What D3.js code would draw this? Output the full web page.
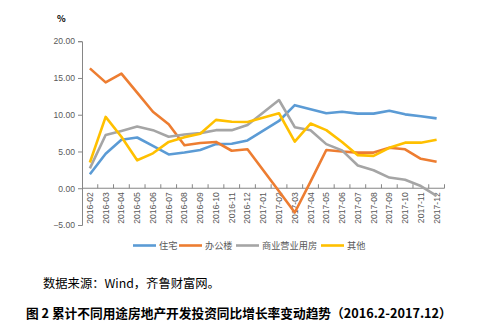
<!DOCTYPE html>
<html><head><meta charset="utf-8">
<script src="https://cdn.jsdelivr.net/npm/d3@7"></script>
<style>body{margin:0;background:#fff}svg{display:block}</style>
</head><body>
<script>
const categories = ["2016-02","2016-03","2016-04","2016-05","2016-06","2016-07","2016-08","2016-09","2016-10","2016-11","2016-12","2017-01","2017-02","2017-03","2017-04","2017-05","2017-06","2017-07","2017-08","2017-09","2017-10","2017-11","2017-12"];
const seriesNames = ["住宅","办公楼","商业营业用房","其他"];
const residential = [1.9,4.7,6.6,6.9,5.75,4.6,4.85,5.2,6.0,6.05,6.5,null,9.15,11.3,10.75,10.2,10.4,10.15,10.15,10.55,10.05,9.8,9.5];
const office      = [16.3,14.4,15.6,13.0,10.4,8.7,5.85,6.15,6.3,5.1,5.3,null,-0.4,-3.3,0.9,5.2,5.0,4.85,4.85,5.5,5.3,4.0,3.6];
const commercial  = [2.7,7.25,7.8,8.4,7.9,7.0,7.3,7.5,7.9,7.9,8.6,null,12.0,8.3,7.9,6.0,5.15,3.1,2.45,1.45,1.15,0.3,-1.05];
const other       = [3.5,9.7,7.0,3.8,4.75,6.3,6.95,7.4,9.3,9.05,9.0,null,10.2,6.35,8.8,7.9,6.3,4.5,4.4,5.5,6.2,6.2,6.6];
const yTicks = [-5,0,5,10,15,20];
const colors = ["#5B9BD5","#ED7D31","#A5A5A5","#FFC000"];
const sourceText = "数据来源：Wind，齐鲁财富网。";
const titleText = "图 2 累计不同用途房地产开发投资同比增长率变动趋势（2016.2-2017.12）";

const W=488,H=332;
const svg=d3.select("body").append("svg").attr("width",W).attr("height",H);
const x=d3.scaleBand().domain(categories).range([82,444.5]);
const y=d3.scaleLinear().domain([-5,20]).range([225,41.2]);
const axisColor="#868686", textColor="#595959";
const numFont="'Liberation Sans',Arial,sans-serif";
const cjkFont="'Noto Sans CJK SC',sans-serif";

// y axis
const ya=svg.append("g").attr("transform","translate(82,0)")
  .call(d3.axisLeft(y).tickValues(yTicks).tickFormat(d3.format(".2f")).tickSize(4).tickPadding(3));
ya.select(".domain").attr("stroke",axisColor);
ya.selectAll(".tick line").attr("stroke",axisColor);
ya.selectAll(".tick text").attr("fill",textColor).style("font-family",numFont).style("font-size","8.6px");

// x axis at zero
const xg=svg.append("g").attr("transform",`translate(0,${y(0)})`);
xg.append("line").attr("x1",82).attr("x2",444.5).attr("stroke",axisColor);
const bounds=categories.map(c=>x(c)).concat([x.range()[1]]);
xg.selectAll("line.tk").data(bounds.slice(1)).join("line").attr("class","tk")
  .attr("x1",d=>d).attr("x2",d=>d).attr("y1",0).attr("y2",-4).attr("stroke",axisColor);
xg.selectAll("text").data(categories).join("text")
  .attr("transform",d=>`translate(${x(d)+x.bandwidth()/2+3},4) rotate(-90)`)
  .attr("text-anchor","end").attr("fill",textColor)
  .style("font-family",numFont).style("font-size","8.6px").text(d=>d);

// % label
svg.append("text").attr("x",57).attr("y",22).text("%").attr("fill","#000")
  .style("font-family",cjkFont).style("font-size","9px").style("font-weight","bold");

// lines
const allSeries=[residential,office,commercial,other];
const line=d3.line().x(d=>x(d.c)+x.bandwidth()/2).y(d=>y(d.v));
allSeries.forEach((s,i)=>{
  const pts=s.map((v,j)=>({c:categories[j],v})).filter(d=>d.v!==null);
  svg.append("path").datum(pts).attr("d",line).attr("fill","none")
    .attr("stroke",colors[i]).attr("stroke-width",2.6).attr("stroke-linejoin","round");
});

// legend
const legX=[133,179,236,321];
const lg=svg.append("g");
seriesNames.forEach((n,i)=>{
  lg.append("line").attr("x1",legX[i]).attr("x2",legX[i]+23).attr("y1",245.5).attr("y2",245.5)
    .attr("stroke",colors[i]).attr("stroke-width",2.6);
  lg.append("text").attr("x",legX[i]+26).attr("y",249).text(n).attr("fill",textColor)
    .style("font-family",cjkFont).style("font-size","9.2px");
});

svg.append("text").attr("x",43).attr("y",288).text(sourceText).attr("fill","#000")
  .style("font-family",cjkFont).style("font-size","12.3px");
svg.append("text").attr("x",26).attr("y",318).text(titleText).attr("fill","#000")
  .style("font-family",cjkFont).style("font-size","12.7px").style("font-weight","bold");
</script>
</body></html>
